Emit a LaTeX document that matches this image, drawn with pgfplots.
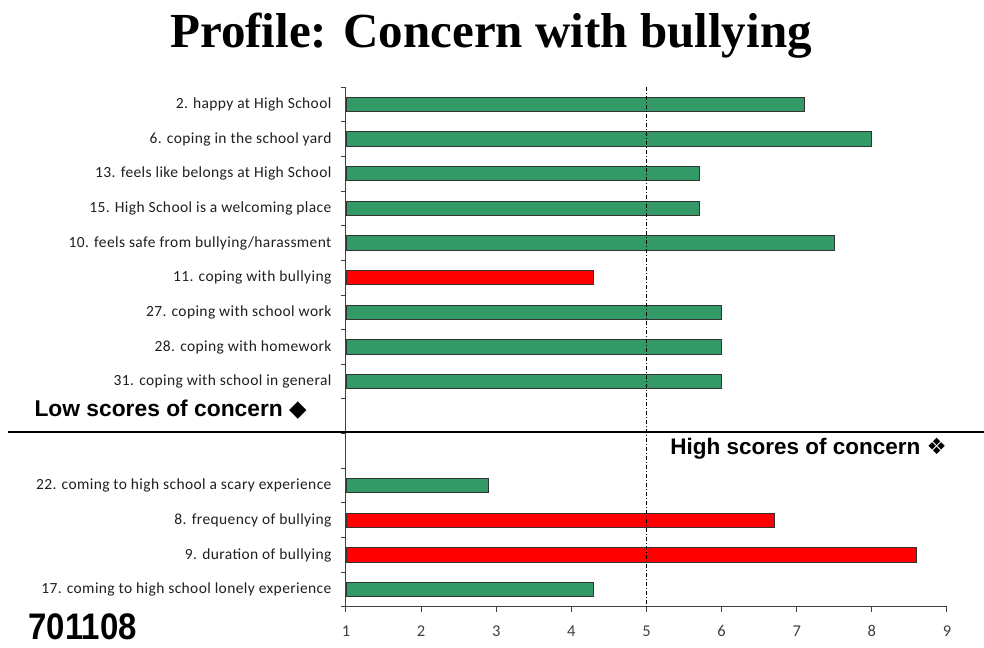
\documentclass[border=0pt]{standalone}
\usepackage{fontspec}
\setmainfont{Carlito}
\newfontfamily\labelfont{Carlito}[LetterSpace=2.5]
\newfontfamily\arialfont{Liberation Sans}
\newfontfamily\titlefont{Liberation Serif}
\newfontfamily\symfont{DejaVu Sans}
\usepackage{graphicx}
\usepackage{pgfplots}
\pgfplotsset{compat=1.18}
\definecolor{bargreen}{RGB}{51,153,102}
\definecolor{barred}{RGB}{255,0,0}

\begin{document}
\begin{tikzpicture}
\begin{axis}[
    scale only axis,
    width=601pt, height=520pt,
    xmin=1, xmax=9,
    ymin=-0.5, ymax=14.5,
    y dir=reverse,
    clip mode=individual,
    axis x line*=bottom,
    axis y line*=left,
    axis line style={black!75, line width=1pt, -},
    tick align=outside,
    xtick={1,...,9},
    /pgf/number format/assume math mode=true,
    major tick length=5pt,
    minor tick length=5pt,
    ytick={0,1,2,3,4,5,6,7,8,11,12,13,14},
    yticklabels={
        2. happy at High School,
        6. coping in the school yard,
        13. feels like belongs at High School,
        15. High School is a welcoming place,
        10. feels safe from bullying/harassment,
        11. coping with bullying,
        27. coping with school work,
        28. coping with homework,
        31. coping with school in general,
        22. coming to high school a scary experience,
        8. frequency of bullying,
        9.  duration of bullying,
        17. coming to high school lonely experience},
    minor ytick={-0.5,0.5,...,14.5},
    major y tick style={draw=none},
    minor y tick style={black!75, line width=1pt},
    major x tick style={black!75, line width=1pt},
    yticklabel style={font=\labelfont\fontsize{15.5}{16}\selectfont, text=black!88, xshift=-6pt},
    xticklabel style={font=\labelfont\fontsize{16.5}{17}\selectfont, text=black!75, yshift=-10pt},
]

% green bars
\addplot[xbar, bar width=14.5pt, bar shift=0pt, fill=bargreen, draw=black!80, line width=1.1pt]
    coordinates {
    (7.1,0) (8.0,1) (5.7,2) (5.7,3) (7.5,4)
    (6.0,6) (6.0,7) (6.0,8) (2.9,11) (4.3,14)};

% red bars
\addplot[xbar, bar width=14.5pt, bar shift=0pt, fill=barred, draw=black!80, line width=1.1pt]
    coordinates {
    (4.3,5) (6.7,12) (8.6,13)};

% midpoint reference line
\draw[black, line width=0.8pt, dash pattern=on 4pt off 2pt on 1pt off 2pt]
    (axis cs:5,-0.5) -- (axis cs:5,14.5);

% separator between low and high concern items
\draw[black, line width=1.8pt] (axis cs:-3.50,9.45) -- (axis cs:9.49,9.45);

\node[anchor=east, font=\arialfont\bfseries\fontsize{22.8}{24}\selectfont, inner sep=0pt]
    at (axis cs:0.48,8.82) {Low scores of concern {\symfont ◆}};
\node[anchor=east, font=\arialfont\bfseries\fontsize{22.5}{24}\selectfont, inner sep=0pt]
    at (axis cs:9.0,9.94) {High scores of concern {\symfont ❖}};
\node[anchor=west, font=\arialfont\bfseries\fontsize{33}{34}\selectfont, inner sep=0pt]
    at (axis cs:-3.23,15.06) {\scalebox{1}[1.12]{701108}};
\node[font=\titlefont\bfseries\fontsize{49}{52}\selectfont, inner sep=0pt]
    at (axis cs:2.93,-1.97) {Profile: Concern with bullying};

\coordinate (bbsw) at (axis cs:-3.606,15.68);
\coordinate (bbne) at (axis cs:9.493,-3.01);
\end{axis}
\pgfresetboundingbox
\path[use as bounding box] (bbsw) rectangle (bbne);
\end{tikzpicture}
\end{document}
